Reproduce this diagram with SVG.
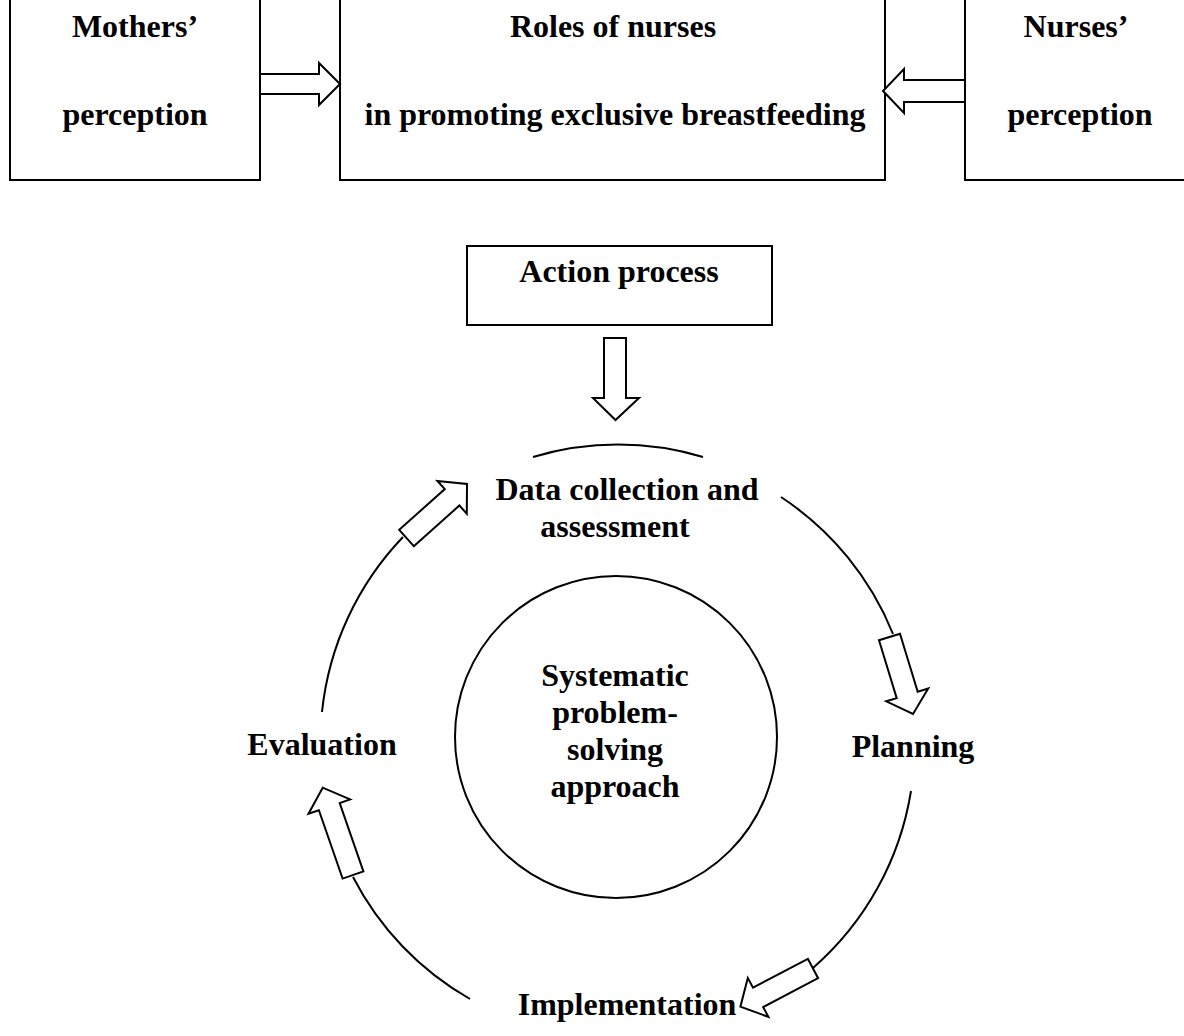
<svg xmlns="http://www.w3.org/2000/svg" width="1184" height="1036" viewBox="0 0 1184 1036">
<style>
.box{fill:#fff;stroke:#000;stroke-width:2}
.arr{fill:#fff;stroke:#000;stroke-width:2;stroke-linejoin:miter}
.arc{fill:none;stroke:#000;stroke-width:2}
text{font-family:"Liberation Serif","Times New Roman",serif;font-weight:bold;font-size:32px;fill:#000;text-anchor:middle}
</style>
<rect width="1184" height="1036" fill="#fff"/>
<g id="mothers">
<rect class="box" x="10" y="-4" width="250" height="184"/>
<text x="135" y="37">Mothers’</text>
<text x="135" y="125">perception</text>
</g>
<g id="roles">
<rect class="box" x="340" y="-4" width="545" height="184"/>
<text x="613" y="37">Roles of nurses</text>
<text x="615" y="125">in promoting exclusive breastfeeding</text>
</g>
<g id="nurses">
<rect class="box" x="965" y="-4" width="230" height="184"/>
<text x="1076" y="37">Nurses’</text>
<text x="1080" y="125">perception</text>
</g>
<g id="action">
<rect class="box" x="467" y="246" width="305" height="79"/>
<text x="619" y="282">Action process</text>
</g>
<g id="center">
<circle class="box" cx="616" cy="737" r="161"/>
<text x="615" y="686">Systematic</text>
<text x="615" y="723">problem-</text>
<text x="615" y="760">solving</text>
<text x="615" y="797">approach</text>
</g>
<g id="data">
<text x="627" y="500">Data collection and</text>
<text x="615" y="537">assessment</text>
</g>
<g id="planning"><text x="913" y="757">Planning</text></g>
<g id="implementation"><text x="627" y="1015">Implementation</text></g>
<g id="evaluation"><text x="322" y="755">Evaluation</text></g>
<g id="connectors">
<polygon class="arr" points="260,74 319,74 319,63 340,84 319,105 319,94 260,94"/>
<polygon class="arr" points="965,80 904,80 904,69 883,91 904,113 904,102 965,102"/>
<polygon class="arr" points="604,338 626,338 626,398 639,398 615.5,420 593,398 604,398"/>
<path class="arc" d="M533,457 A297,297 0 0 1 703,457"/>
<path class="arc" d="M781,497 A297,297 0 0 1 893,634"/>
<path class="arc" d="M911,791 A297,297 0 0 1 813,968"/>
<path class="arc" d="M470,999 A297,297 0 0 1 353,877"/>
<path class="arc" d="M322,712 A297,297 0 0 1 403,537"/>
<polygon class="arr" points="413.8,546.2 459.4,505.5 466.8,513.7 467,484 437.4,480.9 444.8,489.1 399.2,529.8"/>
<polygon class="arr" points="900,633.8 917.7,691.7 928.2,688.5 913,714 886.2,701.3 896.7,698.1 879,640.2"/>
<polygon class="arr" points="807.9,958.8 753,987.7 747.8,977.9 740.4,1006.7 768.4,1016.9 763.2,1007.1 818.1,978.2"/>
<polygon class="arr" points="363.4,871.4 339.7,803 350.1,799.4 322.7,787.7 308.5,813.8 318.9,810.2 342.6,878.6"/>
</g>
</svg>
